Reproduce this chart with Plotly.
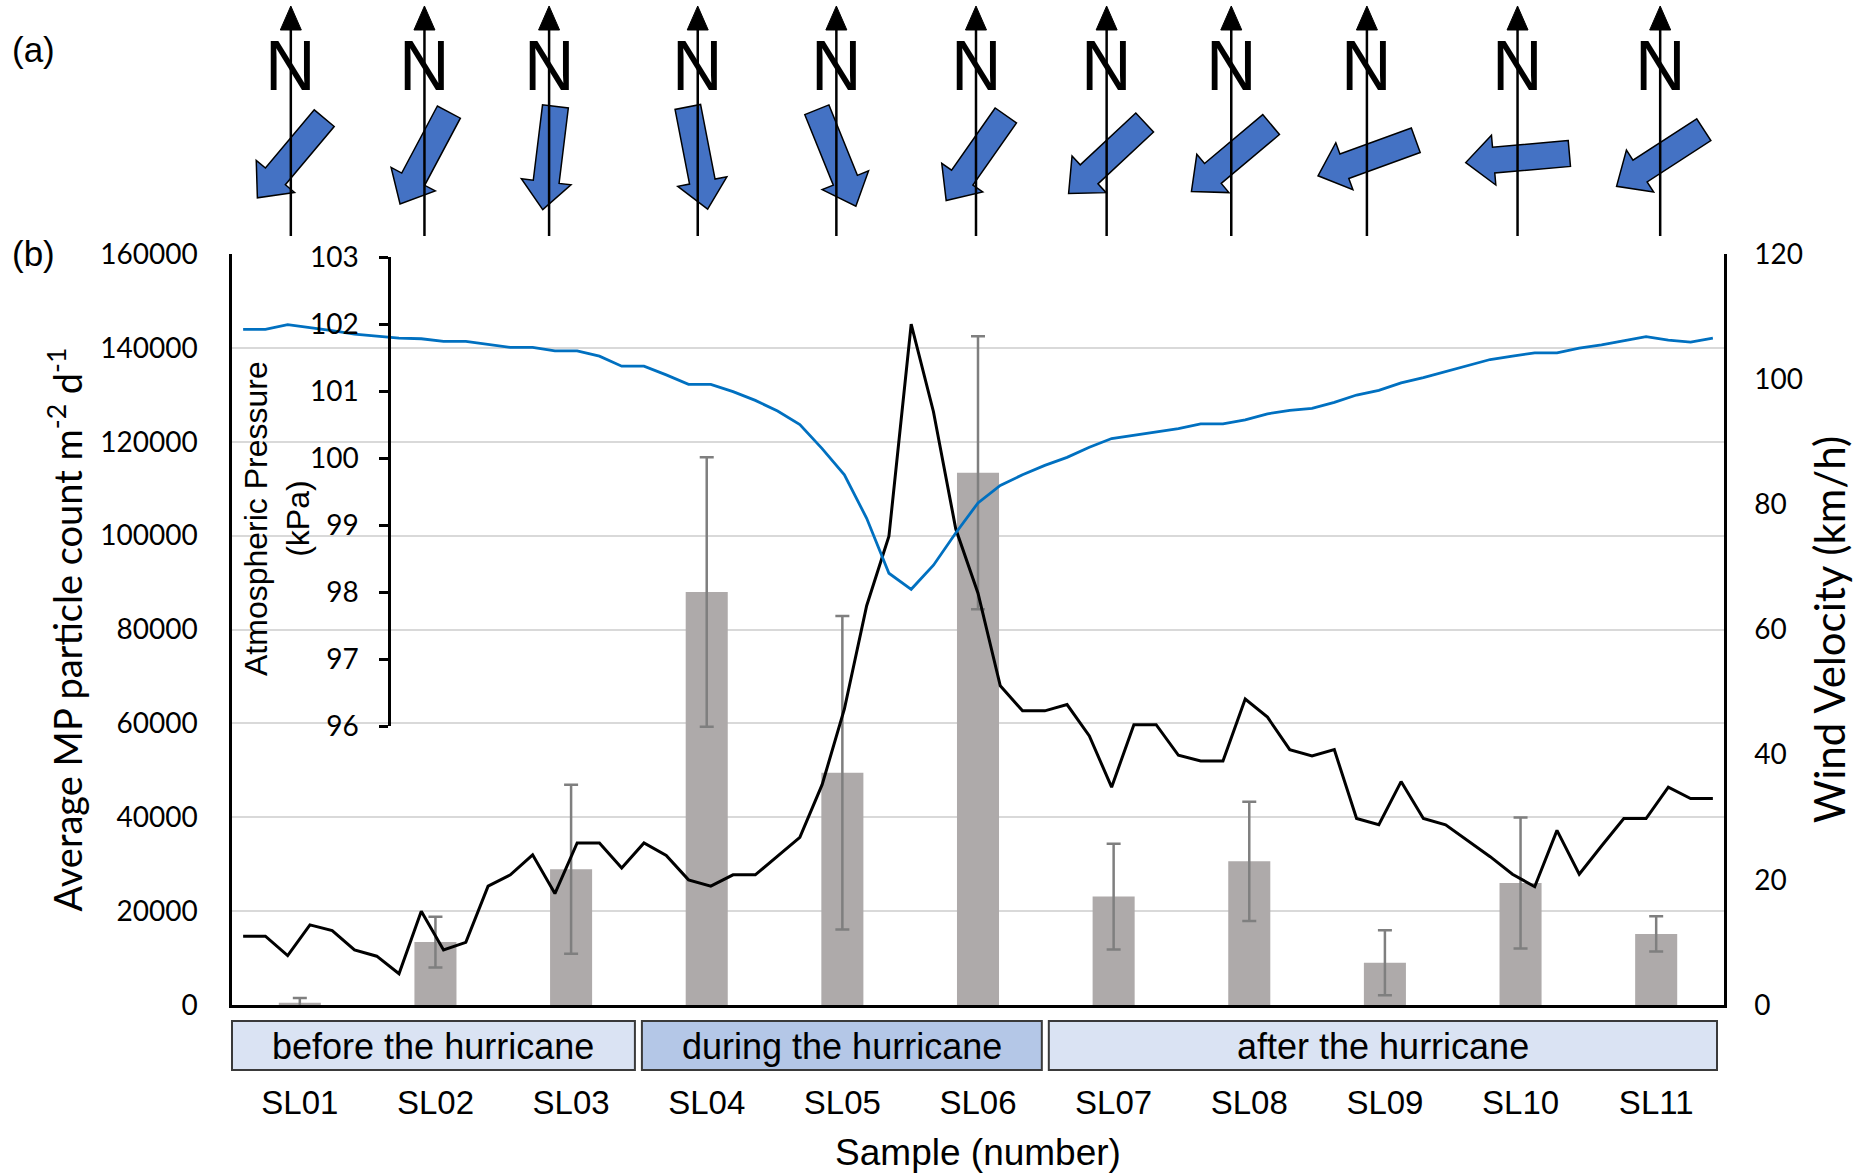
import math
import plotly.graph_objects as go

# ---------------- data ----------------
samples = ["SL01", "SL02", "SL03", "SL04", "SL05", "SL06", "SL07", "SL08", "SL09", "SL10", "SL11"]
mp_mean = [500, 13400, 28900, 88000, 49500, 113400, 23100, 30600, 9000, 26000, 15150]
mp_err = [1000, 5400, 18000, 28700, 33400, 29100, 11250, 12700, 6900, 13950, 3750]

wind_kmh = [11.0, 11.0, 7.9, 12.8, 11.9, 8.8, 7.8, 5.0, 15.0, 8.8,
            10.0, 19.0, 20.8, 24.0, 17.8, 25.9, 25.9, 21.9, 25.9, 23.9,
            20.0, 19.0, 20.8, 20.8, 23.8, 26.8, 35.2, 47.3, 63.8, 74.9,
            108.8, 94.8, 76.1, 65.8, 51.0, 47.0, 47.0, 48.0, 43.0, 34.8,
            44.8, 44.8, 39.9, 39.0, 39.0, 48.9, 46.0, 40.8, 39.8, 40.8,
            29.8, 28.8, 35.7, 29.8, 28.8, 26.2, 23.7, 20.9, 18.9, 27.9,
            20.9, 25.4, 29.8, 29.8, 34.8, 33.0, 33.0]

pressure_kpa = [101.92, 101.92, 101.99, 101.95, 101.90, 101.85, 101.82, 101.79, 101.78, 101.74,
                101.74, 101.69, 101.65, 101.65, 101.60, 101.60, 101.52, 101.37, 101.37, 101.24,
                101.10, 101.10, 100.99, 100.86, 100.70, 100.50, 100.14, 99.75, 99.10, 98.28,
                98.04, 98.40, 98.88, 99.33, 99.59, 99.75, 99.89, 100.01, 100.16, 100.29,
                100.34, 100.39, 100.44, 100.51, 100.51, 100.57, 100.66, 100.71, 100.74, 100.83,
                100.94, 101.01, 101.12, 101.20, 101.29, 101.38, 101.47, 101.52, 101.57, 101.57,
                101.64, 101.69, 101.75, 101.81, 101.76, 101.73, 101.79]

time_step = list(range(len(wind_kmh)))

# wind direction (bearing the arrow points to, degrees clockwise from north)
wind_bearing_deg = [220, 208, 187, 169, 158, 215, 227, 230, 250, 265, 237]

period_labels = ["before the hurricane", "during the hurricane", "after the hurricane"]
period_first = [0, 3, 6]
period_last = [2, 5, 10]

# ---------------- styles / geometry ----------------
W, H = 1858, 1173
PL, PR, PT, PB = 232, 1724, 254, 1005        # plot area in page pixels
period_fill = ["#DAE3F3", "#B4C7E7", "#DAE3F3"]
BAR_COLOR = "#AEAAAA"
ERR_COLOR = "#7F7F7F"
BLUE = "#0070C0"
ARROW_BLUE = "#4472C4"
TICK_FONT = dict(family="Lato", size=28, color="black")
ARIAL = "Liberation Sans"
NARROW = "Liberation Sans Narrow, Liberation Sans"
# small hand-placement nudges of the compass glyphs (page px), as in the original figure
compass_nudge = [-9, -11, -22, -9, -6, -2, -7, -18, -18, -3, 4]


def px(x):
    return (x - PL) / (PR - PL)


def py(y):
    return (PB - y) / PB


ncat = len(samples)
cat_w = (PR - PL) / ncat

fig = go.Figure()

fig.add_trace(go.Bar(
    x=samples, y=mp_mean, width=0.31, marker=dict(color=BAR_COLOR, line=dict(width=0)),
    error_y=dict(type="data", array=mp_err, color=ERR_COLOR, thickness=2.5, width=7),
    xaxis="x", yaxis="y", showlegend=False, hoverinfo="skip"))

fig.add_trace(go.Scatter(
    x=time_step, y=wind_kmh, mode="lines", line=dict(color="black", width=3),
    xaxis="x2", yaxis="y2", showlegend=False))

fig.add_trace(go.Scatter(
    x=time_step, y=pressure_kpa, mode="lines", line=dict(color=BLUE, width=2.8),
    xaxis="x2", yaxis="y3", showlegend=False))

shapes = []
annotations = []

# period boxes
for lab, a, b, col in zip(period_labels, period_first, period_last, period_fill):
    x0 = PL + a * cat_w + (0 if a == 0 else 3)
    x1 = PL + (b + 1) * cat_w - (4 if b < ncat - 1 else 7)
    shapes.append(dict(type="rect", xref="paper", yref="paper",
                       x0=px(x0), x1=px(x1), y0=py(1070), y1=py(1021),
                       fillcolor=col, line=dict(color="#3A3A3A", width=2), layer="above"))
    annotations.append(dict(text=lab, xref="paper", yref="paper", x=px((x0 + x1) / 2), y=py(1046),
                            showarrow=False, font=dict(family=ARIAL, size=36, color="black"),
                            xanchor="center", yanchor="middle"))

# wind-direction block arrows and north indicators
ALEN, SHAFT, HEADW, HEADL = 104, 26, 50, 28
centers = [PL + (i + 0.5) * cat_w + compass_nudge[i] for i in range(ncat)]
for cx, brg in zip(centers, wind_bearing_deg):
    cy = 158
    t = math.radians(brg)
    dx, dy = math.sin(t), -math.cos(t)
    nx, ny = math.cos(t), math.sin(t)
    tx, ty = cx - dx * ALEN / 2, cy - dy * ALEN / 2
    hx, hy = cx + dx * ALEN / 2, cy + dy * ALEN / 2
    bx, by = hx - dx * HEADL, hy - dy * HEADL
    pts = [(tx + nx * SHAFT / 2, ty + ny * SHAFT / 2),
           (bx + nx * SHAFT / 2, by + ny * SHAFT / 2),
           (bx + nx * HEADW / 2, by + ny * HEADW / 2),
           (hx, hy),
           (bx - nx * HEADW / 2, by - ny * HEADW / 2),
           (bx - nx * SHAFT / 2, by - ny * SHAFT / 2),
           (tx - nx * SHAFT / 2, ty - ny * SHAFT / 2)]
    path = "M " + " L ".join(f"{px(p[0]):.5f},{py(p[1]):.5f}" for p in pts) + " Z"
    shapes.append(dict(type="path", xref="paper", yref="paper", path=path,
                       fillcolor=ARROW_BLUE, line=dict(color="black", width=1.5), layer="above"))

for cx in centers:
    shapes.append(dict(type="line", xref="paper", yref="paper", x0=px(cx), x1=px(cx),
                       y0=py(236), y1=py(26), line=dict(color="black", width=2.5), layer="above"))
    tri = f"M {px(cx):.5f},{py(6):.5f} L {px(cx - 10.5):.5f},{py(30):.5f} L {px(cx + 10.5):.5f},{py(30):.5f} Z"
    shapes.append(dict(type="path", xref="paper", yref="paper", path=tri,
                       fillcolor="black", line=dict(color="black", width=1), layer="above"))
    annotations.append(dict(text="N", xref="paper", yref="paper", x=px(cx), y=py(66),
                            showarrow=False, font=dict(family=NARROW, size=70, color="black"),
                            xanchor="center", yanchor="middle"))

annotations.append(dict(text="(a)", xref="paper", yref="paper", x=px(33), y=py(50), showarrow=False,
                        font=dict(family=ARIAL, size=35, color="black"), xanchor="center", yanchor="middle"))
annotations.append(dict(text="(b)", xref="paper", yref="paper", x=px(33), y=py(254), showarrow=False,
                        font=dict(family=ARIAL, size=35, color="black"), xanchor="center", yanchor="middle"))
# title of the inset pressure axis (placed like the reference, below the axis centre)
annotations.append(dict(text="Atmospheric Pressure<br>(kPa)", xref="paper", yref="paper",
                        x=px(277), y=py(519), showarrow=False, textangle=-90,
                        font=dict(family=ARIAL, size=32, color="black"),
                        xanchor="center", yanchor="middle"))

fig.update_layout(
    width=W, height=H, autosize=False,
    margin=dict(l=PL, r=W - PR, t=0, b=H - PB, pad=0),
    paper_bgcolor="white", plot_bgcolor="rgba(0,0,0,0)",
    bargap=0.69, showlegend=False,
    shapes=shapes, annotations=annotations,
    xaxis=dict(type="category", range=[-0.5, 10.5], domain=[0, 1], anchor="y", automargin=False,
               showline=True, linecolor="black", linewidth=3, ticks="", showgrid=False,
               tickfont=dict(family=ARIAL, size=33, color="black"), ticklabelstandoff=66,
               title=dict(text="Sample (number)", font=dict(family=ARIAL, size=37, color="black"), standoff=24)),
    xaxis2=dict(overlaying="x", range=[-0.5, len(time_step) - 0.5], visible=False, anchor="y2",
                automargin=False),
    yaxis=dict(domain=[0, py(PT)], range=[0, 160000], dtick=20000, tickformat="d", automargin=False,
               showgrid=True, gridcolor="#D9D9D9", gridwidth=2, zeroline=False,
               showline=True, linecolor="black", linewidth=2.5, ticks="",
               tickfont=TICK_FONT, ticklabelstandoff=26,
               title=dict(text="Average MP particle count m<sup>-2</sup> d<sup>-1</sup>",
                          font=dict(family="Lato", size=38, color="black"), standoff=6)),
    yaxis2=dict(overlaying="y", side="right", range=[0, 120], dtick=20, showgrid=False, zeroline=False,
                automargin=False, showline=True, linecolor="black", linewidth=2.5, ticks="",
                tickfont=TICK_FONT, ticklabelstandoff=22,
                title=dict(text="Wind Velocity (km/h)", font=dict(family="Lato", size=42, color="black"),
                           standoff=14)),
    yaxis3=dict(domain=[py(726), py(257)], range=[96, 103], dtick=1, anchor="free", position=px(389),
                side="left", showgrid=False, zeroline=False, showline=True, linecolor="black", linewidth=2.5,
                automargin=False, ticks="outside", ticklen=9, tickwidth=2.5, tickcolor="black",
                tickfont=TICK_FONT, ticklabelstandoff=15),
)

fig.write_html("out.html", post_script="document.body.style.margin='0';")
